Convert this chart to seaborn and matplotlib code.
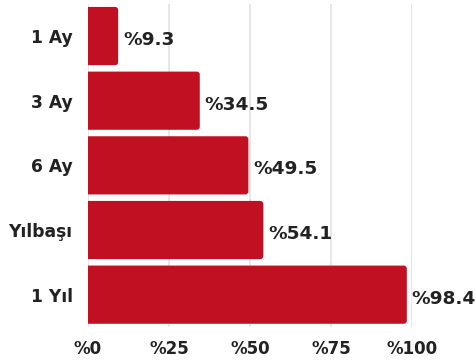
import matplotlib
matplotlib.use("Agg")
import matplotlib.pyplot as plt
import seaborn as sns
import pandas as pd
from matplotlib.patches import FancyBboxPatch

categories = ["1 Ay", "3 Ay", "6 Ay", "Yılbaşı", "1 Yıl"]
values = [9.3, 34.5, 49.5, 54.1, 98.4]
value_labels = ["%9.3", "%34.5", "%49.5", "%54.1", "%98.4"]
xticks = [0, 25, 50, 75, 100]
xtick_labels = ["%0", "%25", "%50", "%75", "%100"]

sns.set_style("white")
plt.rcParams['font.family'] = ['DejaVu Sans']

RED = "#C01022"
TXT = "#222222"

df = pd.DataFrame({"cat": categories, "val": values})

fig = plt.figure(figsize=(4.77, 3.61), dpi=100)
ax = fig.add_axes([88/477, 1-327/361, (412-88)/477, (327-3.7)/361])

sns.barplot(data=df, x="val", y="cat", orient="h", color=RED, width=0.9,
            saturation=1, ax=ax, zorder=3)

# replace bars with rounded ones
px_x = 324/100.0   # px per x unit
px_y = 323.3/5.0   # px per y unit
r_px = 3.0
for p in list(ax.patches):
    x0, y0 = p.get_x(), p.get_y()
    w, h = p.get_width(), p.get_height()
    p.remove()
    fb = FancyBboxPatch((x0 - 3, y0), w + 3, h,
                        boxstyle=f"round,pad=0,rounding_size={r_px/px_x}",
                        mutation_aspect=(1/px_y)/(1/px_x),
                        facecolor=RED, edgecolor="none", zorder=3)
    ax.add_patch(fb)

for i, (v, lab) in enumerate(zip(values, value_labels)):
    ax.text(v + 1.5, i + 0.06, lab, ha="left", va="center", fontsize=13.3,
            fontweight="bold", color=TXT, clip_on=False, zorder=4)

ax.set_xlim(0, 100)
ax.set_ylim(4.5, -0.5)
ax.set_xticks(xticks)
ax.set_xticklabels(xtick_labels, fontsize=12, fontweight="bold", color=TXT)
ax.set_yticks(range(len(categories)))
ax.set_yticklabels(categories, fontsize=12.3, fontweight="bold", color=TXT)
ax.tick_params(axis="both", length=0)
ax.tick_params(axis="y", pad=11)
ax.tick_params(axis="x", pad=9)
ax.set_xlabel("")
ax.set_ylabel("")
ax.grid(axis="x", color="#e3e3e3", linewidth=1.2, zorder=0)
ax.set_axisbelow(True)
for s in ax.spines.values():
    s.set_visible(False)

fig.savefig("out.png", dpi=100)
